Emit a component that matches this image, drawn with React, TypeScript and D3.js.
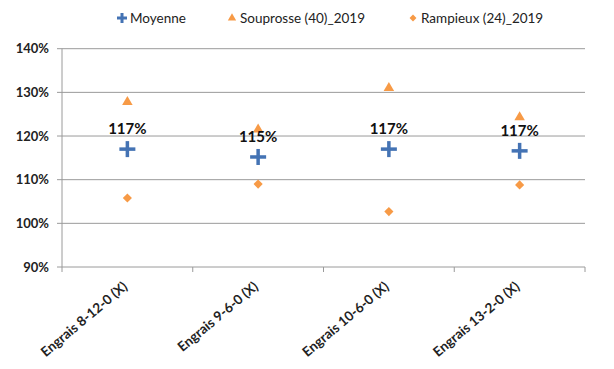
import React from "react";
import * as d3 from "d3";

const categories = ["Engrais 8-12-0 (X)", "Engrais 9-6-0 (X)", "Engrais 10-6-0 (X)", "Engrais 13-2-0 (X)"];
const moyenne = [117.0, 115.2, 117.0, 116.6];
const souprosse = [127.8, 121.5, 131.0, 124.3];
const rampieux = [105.8, 109.0, 102.7, 108.8];
const yTicks = [90, 100, 110, 120, 130, 140];
const seriesNames = ["Moyenne", "Souprosse (40)_2019", "Rampieux (24)_2019"];

const W = 614, H = 369;
const left = 62, right = 585, top = 48.7, bottom = 267;
const blue = "#4473B4";
const orange = "#F79A46";
const font = "Lato, 'Open Sans', sans-serif";

export default function App() {
  const x = d3.scaleBand<string>().domain(categories).range([left, right]);
  const y = d3.scaleLinear().domain([90, 140]).range([bottom, top]);
  const cx = (c: string) => (x(c) as number) + x.bandwidth() / 2;
  const tri = d3.symbol().type(d3.symbolTriangle).size(48)();
  const dia = d3.symbol().type(d3.symbolSquare).size(42)();
  const plus = (px: number, py: number, s: number, w: number, key: string) => (
    <g key={key}>
      <rect x={px - s} y={py - w / 2} width={2 * s} height={w} fill={blue} />
      <rect x={px - w / 2} y={py - s} width={w} height={2 * s} fill={blue} />
    </g>
  );
  const xTickPos = [...categories.map((c) => x(c) as number), right];
  return (
    <svg width={W} height={H} style={{ position: "absolute", left: 0, top: 0 }} fontFamily={font}>
      <rect width={W} height={H} fill="#fff" />
      {/* legend */}
      {plus(122, 18, 5, 3, "lp")}
      <text x={130} y={23} fontSize={13.5} fill="#222">{seriesNames[0]}</text>
      <path d={d3.symbol().type(d3.symbolTriangle).size(30)()!} transform="translate(232,18)" fill={orange} />
      <text x={240} y={23} fontSize={13.5} fill="#222">{seriesNames[1]}</text>
      <path d={d3.symbol().type(d3.symbolSquare).size(24)()!} transform="translate(413,18) rotate(45)" fill={orange} />
      <text x={421} y={23} fontSize={13.5} fill="#222">{seriesNames[2]}</text>
      {/* grid */}
      {yTicks.map((t) => (
        <g key={t}>
          <line x1={left} x2={right} y1={y(t)} y2={y(t)} stroke="#9a9a9a" strokeWidth={1} />
          <line x1={left - 5} x2={left} y1={y(t)} y2={y(t)} stroke="#9a9a9a" strokeWidth={1} />
          <text x={49} y={y(t) + 4.5} textAnchor="end" fontSize={13} fontWeight="bold" fill="#222">{t}%</text>
        </g>
      ))}
      <line x1={left} x2={left} y1={top} y2={bottom} stroke="#9a9a9a" strokeWidth={1} />
      {xTickPos.map((p, i) => (
        <line key={i} x1={p} x2={p} y1={bottom} y2={bottom + 5} stroke="#9a9a9a" strokeWidth={1} />
      ))}
      {categories.map((c) => (
        <text key={c} transform={`translate(${cx(c) + 1},${bottom + 21}) rotate(-40)`} textAnchor="end" fontSize={13.5} fontWeight="bold" fill="#222">{c}</text>
      ))}
      {/* points */}
      {categories.map((c, i) => (
        <g key={"s" + i}>
          <path d={tri!} transform={`translate(${cx(c)},${y(souprosse[i])})`} fill={orange} />
          <path d={dia!} transform={`translate(${cx(c)},${y(rampieux[i])}) rotate(45)`} fill={orange} />
          {plus(cx(c), y(moyenne[i]), 8, 3.5, "p" + i)}
          <text x={cx(c)} y={y(moyenne[i]) - 15} textAnchor="middle" fontSize={15} fontWeight="bold" fill="#111">{Math.round(moyenne[i])}%</text>
        </g>
      ))}
    </svg>
  );
}
